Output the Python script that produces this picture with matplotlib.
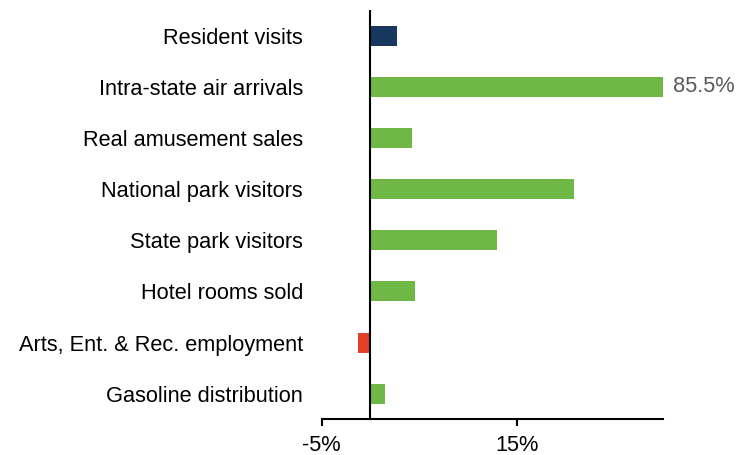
import matplotlib
matplotlib.use("Agg")
import matplotlib.pyplot as plt

categories = ["Resident visits", "Intra-state air arrivals", "Real amusement sales",
              "National park visitors", "State park visitors", "Hotel rooms sold",
              "Arts, Ent. & Rec. employment", "Gasoline distribution"]
values = [2.7, 85.5, 4.3, 20.9, 13.0, 4.6, -1.3, 1.5]
bar_colors = ["#17375E", "#70B845", "#70B845", "#70B845", "#70B845", "#70B845", "#E2402A", "#70B845"]
xticks = [-5, 15]
xtick_labels = ["-5%", "15%"]
annot_index = 1
annot_text = "85.5%"

plt.rcParams['font.family'] = ['Liberation Sans', 'DejaVu Sans']
fs = 15.7

fig = plt.figure(figsize=(7.36, 4.55), dpi=100)
ax = fig.add_axes([321.7/736, 1-419.3/455, (663.3-321.7)/736, (419.3-10)/455])

xmax = 30
ypos = list(range(len(categories)))
ax.barh(ypos, values, height=0.39, color=bar_colors, zorder=2)
ax.set_xlim(-5, xmax)
ax.set_ylim(len(categories)-0.5, -0.5)
ax.axvline(0, color="black", lw=1.5, zorder=3)

ax.set_yticks(ypos)
ax.set_yticklabels(categories, fontsize=fs, color="black")
ax.tick_params(axis='y', length=0, pad=13.5)
ax.set_xticks(xticks)
ax.set_xticklabels(xtick_labels, fontsize=fs, color="black")
ax.tick_params(axis='x', length=5, width=1.5, direction='out', pad=6.5)

for s in ["top", "right", "left"]:
    ax.spines[s].set_visible(False)
ax.spines["bottom"].set_linewidth(1.5)

ax.text(xmax + 1.0, annot_index, annot_text, va='center', ha='left', fontsize=fs, color="#595959",
        clip_on=False)

fig.savefig("out.png", dpi=100)
